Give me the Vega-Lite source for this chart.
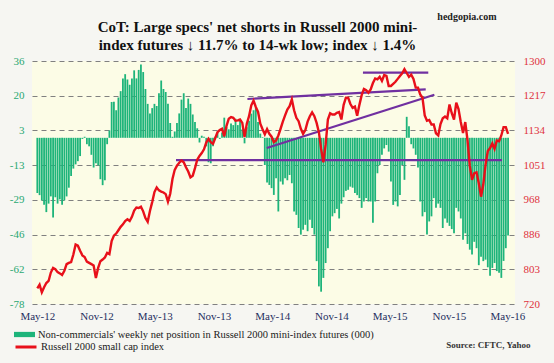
{
 "$schema": "https://vega.github.io/schema/vega-lite/v6.json",
 "width": 483, "height": 243,
 "autosize": {"type": "none"},
 "padding": {"left": 32, "top": 61, "right": 39, "bottom": 59},
 "background": "#f6f6f2",
 "config": {"view": {"stroke": null, "fill": "#fcfce6"}, "font": "Liberation Serif"},
 "title": {"text": ["CoT: Large specs' net shorts in Russell 2000 mini-", "index futures ↓ 11.7% to 14-wk low; index ↓ 1.4%"], "font": "Liberation Serif", "fontSize": 15, "fontWeight": "bold", "color": "#111111", "anchor": "middle", "dx": -16, "dy": 52, "offset": 10, "lineHeight": 18},
 "datasets": {
  "weekly": [
   {"d":"2012-05-01","n":-26,"p":757},{"d":"2012-05-08","n":-27,"p":766},{"d":"2012-05-15","n":-29.5,"p":748},{"d":"2012-05-22","n":-31.5,"p":760},{"d":"2012-05-29","n":-35,"p":770},{"d":"2012-06-05","n":-31,"p":775},{"d":"2012-06-12","n":-27.6,"p":795},{"d":"2012-06-19","n":-37.6,"p":806},{"d":"2012-06-26","n":-28,"p":803},{"d":"2012-07-03","n":-31,"p":796},{"d":"2012-07-10","n":-29,"p":793},{"d":"2012-07-17","n":-31.5,"p":789},{"d":"2012-07-24","n":-29.5,"p":799},{"d":"2012-07-31","n":-27.6,"p":815},{"d":"2012-08-07","n":-23.5,"p":818},{"d":"2012-08-14","n":-18,"p":820},{"d":"2012-08-21","n":-14.5,"p":838},{"d":"2012-08-28","n":-12.5,"p":862},{"d":"2012-09-04","n":-11,"p":859},{"d":"2012-09-11","n":-8.6,"p":847},{"d":"2012-09-18","n":-0.5,"p":836},{"d":"2012-09-25","n":0.5,"p":832},{"d":"2012-10-02","n":-3,"p":821},{"d":"2012-10-09","n":-4,"p":818},{"d":"2012-10-16","n":-8,"p":815},{"d":"2012-10-23","n":-14,"p":812},{"d":"2012-10-30","n":-12,"p":782},{"d":"2012-11-06","n":-13,"p":806},{"d":"2012-11-13","n":-19.5,"p":822},{"d":"2012-11-20","n":-22.3,"p":826},{"d":"2012-11-27","n":-20,"p":831},{"d":"2012-12-04","n":-3,"p":842},{"d":"2012-12-11","n":3.5,"p":839},{"d":"2012-12-18","n":16.9,"p":870},{"d":"2012-12-25","n":17,"p":883},
   {"d":"2013-01-01","n":13,"p":888},{"d":"2013-01-08","n":19,"p":896},{"d":"2013-01-15","n":22,"p":904},{"d":"2013-01-22","n":28,"p":910},{"d":"2013-01-29","n":30,"p":918},{"d":"2013-02-05","n":27.5,"p":922},{"d":"2013-02-12","n":25,"p":918},{"d":"2013-02-19","n":28,"p":928},{"d":"2013-02-26","n":31.8,"p":943},{"d":"2013-03-05","n":28,"p":950},{"d":"2013-03-12","n":32,"p":949},{"d":"2013-03-19","n":34.5,"p":952},{"d":"2013-03-26","n":31,"p":941},{"d":"2013-04-02","n":23,"p":925},{"d":"2013-04-09","n":16,"p":916},{"d":"2013-04-16","n":11.5,"p":942},{"d":"2013-04-23","n":14,"p":963},{"d":"2013-04-30","n":16,"p":987},{"d":"2013-05-07","n":15,"p":998},{"d":"2013-05-14","n":21,"p":991},{"d":"2013-05-21","n":27,"p":988},{"d":"2013-05-28","n":23,"p":986},{"d":"2013-06-04","n":21.6,"p":982},{"d":"2013-06-11","n":16,"p":964},{"d":"2013-06-18","n":7,"p":983},{"d":"2013-06-25","n":0.5,"p":1018},{"d":"2013-07-02","n":3,"p":1040},{"d":"2013-07-09","n":7,"p":1050},{"d":"2013-07-16","n":11.5,"p":1057},{"d":"2013-07-23","n":18,"p":1062},{"d":"2013-07-30","n":21,"p":1058},{"d":"2013-08-06","n":14,"p":1046},{"d":"2013-08-13","n":18.5,"p":1036},{"d":"2013-08-20","n":16,"p":1022},{"d":"2013-08-27","n":11,"p":1026},{"d":"2013-09-03","n":7.5,"p":1044},{"d":"2013-09-10","n":4.5,"p":1064},{"d":"2013-09-17","n":-2.2,"p":1073},{"d":"2013-09-24","n":1,"p":1080},{"d":"2013-10-01","n":0.5,"p":1089},{"d":"2013-10-08","n":-4,"p":1105},{"d":"2013-10-15","n":-11.5,"p":1114},{"d":"2013-10-22","n":-12,"p":1106},{"d":"2013-10-29","n":-4,"p":1102},{"d":"2013-11-05","n":0.5,"p":1116},{"d":"2013-11-12","n":2.8,"p":1130},{"d":"2013-11-19","n":-0.5,"p":1135},{"d":"2013-11-26","n":2.5,"p":1138},{"d":"2013-12-03","n":9.5,"p":1120},{"d":"2013-12-10","n":5,"p":1145},{"d":"2013-12-17","n":4,"p":1162},{"d":"2013-12-24","n":6.8,"p":1166},{"d":"2013-12-31","n":6,"p":1164},
   {"d":"2014-01-07","n":9,"p":1157},{"d":"2014-01-14","n":6,"p":1158},{"d":"2014-01-21","n":8,"p":1160},{"d":"2014-01-28","n":4,"p":1152},{"d":"2014-02-04","n":-2.6,"p":1118},{"d":"2014-02-11","n":5,"p":1150},{"d":"2014-02-18","n":8,"p":1168},{"d":"2014-02-25","n":11.4,"p":1194},{"d":"2014-03-04","n":13,"p":1205},{"d":"2014-03-11","n":14,"p":1190},{"d":"2014-03-18","n":7.5,"p":1178},{"d":"2014-03-25","n":2,"p":1150},{"d":"2014-04-01","n":0.3,"p":1137},{"d":"2014-04-08","n":-12.8,"p":1125},{"d":"2014-04-15","n":-21,"p":1137},{"d":"2014-04-22","n":-22.2,"p":1126},{"d":"2014-04-29","n":-23.7,"p":1119},{"d":"2014-05-06","n":-26.9,"p":1106},{"d":"2014-05-13","n":-19,"p":1110},{"d":"2014-05-20","n":-34.7,"p":1122},{"d":"2014-05-27","n":-20.6,"p":1138},{"d":"2014-06-03","n":-22,"p":1155},{"d":"2014-06-10","n":-19,"p":1170},{"d":"2014-06-17","n":-20,"p":1184},{"d":"2014-06-24","n":-17.5,"p":1192},{"d":"2014-07-01","n":-21.4,"p":1208},{"d":"2014-07-08","n":-34.7,"p":1182},{"d":"2014-07-15","n":-36.3,"p":1164},{"d":"2014-07-22","n":-42.5,"p":1156},{"d":"2014-07-29","n":-45.6,"p":1138},{"d":"2014-08-05","n":-43.3,"p":1126},{"d":"2014-08-12","n":-41,"p":1135},{"d":"2014-08-19","n":-44,"p":1155},{"d":"2014-08-26","n":-38.6,"p":1168},{"d":"2014-09-02","n":-42.5,"p":1177},{"d":"2014-09-09","n":-45.6,"p":1168},{"d":"2014-09-16","n":-58.1,"p":1152},{"d":"2014-09-23","n":-70,"p":1130},{"d":"2014-09-30","n":-72.5,"p":1090},{"d":"2014-10-07","n":-66,"p":1058},{"d":"2014-10-14","n":-59,"p":1100},{"d":"2014-10-21","n":-52,"p":1160},{"d":"2014-10-28","n":-44,"p":1175},{"d":"2014-11-04","n":-37,"p":1172},{"d":"2014-11-11","n":-35.5,"p":1172},{"d":"2014-11-18","n":-33.5,"p":1176},{"d":"2014-11-25","n":-38,"p":1178},{"d":"2014-12-02","n":-31,"p":1160},{"d":"2014-12-09","n":-28,"p":1195},{"d":"2014-12-16","n":-25,"p":1212},{"d":"2014-12-23","n":-24.5,"p":1212},{"d":"2014-12-30","n":-23,"p":1197},
   {"d":"2015-01-06","n":-23.5,"p":1188},{"d":"2015-01-13","n":-26,"p":1191},{"d":"2015-01-20","n":-27,"p":1169},{"d":"2015-01-27","n":-28.4,"p":1195},{"d":"2015-02-03","n":-33,"p":1218},{"d":"2015-02-10","n":-30,"p":1233},{"d":"2015-02-17","n":-28.4,"p":1230},{"d":"2015-02-24","n":-30,"p":1224},{"d":"2015-03-03","n":-30,"p":1232},{"d":"2015-03-10","n":-40,"p":1247},{"d":"2015-03-17","n":-30,"p":1258},{"d":"2015-03-24","n":-16.7,"p":1256},{"d":"2015-03-31","n":-12.8,"p":1262},{"d":"2015-04-07","n":-8,"p":1252},{"d":"2015-04-14","n":-5,"p":1266},{"d":"2015-04-21","n":-3.4,"p":1264},{"d":"2015-04-28","n":-6.5,"p":1240},{"d":"2015-05-05","n":-20.6,"p":1240},{"d":"2015-05-12","n":-31.6,"p":1245},{"d":"2015-05-19","n":-30,"p":1250},{"d":"2015-05-26","n":-32.3,"p":1257},{"d":"2015-06-02","n":-26.9,"p":1264},{"d":"2015-06-09","n":-12.8,"p":1270},{"d":"2015-06-16","n":-19.8,"p":1280},{"d":"2015-06-23","n":9.9,"p":1271},{"d":"2015-06-30","n":5.5,"p":1262},{"d":"2015-07-07","n":-3,"p":1267},{"d":"2015-07-14","n":-5,"p":1257},{"d":"2015-07-21","n":-8,"p":1236},{"d":"2015-07-28","n":-14,"p":1236},{"d":"2015-08-04","n":-30,"p":1220},{"d":"2015-08-11","n":-37,"p":1212},{"d":"2015-08-18","n":-35,"p":1170},{"d":"2015-08-25","n":-45.6,"p":1157},{"d":"2015-09-01","n":-39.4,"p":1159},{"d":"2015-09-08","n":-37,"p":1148},{"d":"2015-09-15","n":-28.4,"p":1148},{"d":"2015-09-22","n":-33,"p":1127},{"d":"2015-09-29","n":-31,"p":1122},{"d":"2015-10-06","n":-33,"p":1149},{"d":"2015-10-13","n":-42.5,"p":1163},{"d":"2015-10-20","n":-38,"p":1167},{"d":"2015-10-27","n":-40,"p":1163},{"d":"2015-11-03","n":-41.5,"p":1196},{"d":"2015-11-10","n":-43,"p":1175},{"d":"2015-11-17","n":-45,"p":1160},{"d":"2015-11-24","n":-33,"p":1200},{"d":"2015-12-01","n":-34.7,"p":1185},{"d":"2015-12-08","n":-38,"p":1154},{"d":"2015-12-15","n":-48,"p":1128},{"d":"2015-12-22","n":-45,"p":1154},{"d":"2015-12-29","n":-50,"p":1110},
   {"d":"2016-01-05","n":-52.7,"p":1050},{"d":"2016-01-12","n":-55,"p":1016},{"d":"2016-01-19","n":-49,"p":1032},{"d":"2016-01-26","n":-52,"p":1034},{"d":"2016-02-02","n":-60,"p":1008},{"d":"2016-02-09","n":-56,"p":976},{"d":"2016-02-16","n":-58.1,"p":1005},{"d":"2016-02-23","n":-57.4,"p":1052},{"d":"2016-03-01","n":-61,"p":1085},{"d":"2016-03-08","n":-65,"p":1092},{"d":"2016-03-15","n":-61.3,"p":1103},{"d":"2016-03-22","n":-59,"p":1090},{"d":"2016-03-29","n":-62.8,"p":1110},{"d":"2016-04-05","n":-63.6,"p":1108},{"d":"2016-04-12","n":-66,"p":1122},{"d":"2016-04-19","n":-58,"p":1142},{"d":"2016-04-26","n":-52,"p":1142},{"d":"2016-05-03","n":-46,"p":1126}
  ],
  "trend": [
   {"s":"a","d":"2013-07-06","p":1063},{"s":"a","d":"2016-04-14","p":1063},
   {"s":"b","d":"2014-02-13","p":1209},{"s":"b","d":"2015-08-21","p":1232},
   {"s":"c","d":"2014-04-14","p":1092},{"s":"c","d":"2015-09-17","p":1219},
   {"s":"d","d":"2015-02-07","p":1272},{"s":"d","d":"2015-08-29","p":1272}
  ]
 },
 "layer": [
  {
   "data": {"name": "weekly"},
   "mark": {"type": "bar", "size": 1.8},
   "encoding": {
    "x": {"field": "d", "type": "temporal",
     "scale": {"type": "utc", "domain": [{"year": 2012, "month": 4, "date": 30, "utc": true}, {"year": 2016, "month": 5, "date": 9, "utc": true}]},
     "axis": {"orient": "bottom",
      "values": [{"year": 2012, "month": 5, "date": 1, "utc": true}, {"year": 2012, "month": 11, "date": 1, "utc": true}, {"year": 2013, "month": 5, "date": 1, "utc": true}, {"year": 2013, "month": 11, "date": 1, "utc": true}, {"year": 2014, "month": 5, "date": 1, "utc": true}, {"year": 2014, "month": 11, "date": 1, "utc": true}, {"year": 2015, "month": 5, "date": 1, "utc": true}, {"year": 2015, "month": 11, "date": 1, "utc": true}, {"year": 2016, "month": 5, "date": 1, "utc": true}],
      "format": "%b-%y", "labelFont": "Liberation Serif", "labelFontSize": 11, "labelColor": "#1f2f5f", "labelPadding": 6,
      "ticks": false, "domain": false, "grid": false, "labelFlush": false, "labelOverlap": false,
      "title": "Source: CFTC, Yahoo", "titleFont": "Liberation Serif", "titleFontSize": 9, "titleFontWeight": "bold", "titleColor": "#333333",
      "titleX": 498, "titleY": 43, "titleAlign": "right", "titleBaseline": "alphabetic", "titleAnchor": "end"}
    },
    "y": {"field": "n", "type": "quantitative",
     "scale": {"domain": [-78.3, 36.2], "nice": false, "zero": false},
     "axis": {"orient": "left", "values": [-78.3, -61.943, -45.586, -29.229, -12.871, 3.486, 19.843, 36.2],
      "labelExpr": "(datum.value < 0 ? '-' : '') + format(abs(datum.value), '.0f')",
      "labelFont": "Liberation Serif", "labelFontSize": 11, "labelColor": "#2aa873", "labelPadding": 8,
      "ticks": false, "domain": false, "grid": true, "gridColor": "#808080", "gridDash": [5, 4], "gridWidth": 1, "title": null}
    },
    "fill": {"datum": "Non-commercials' weekly net position in Russell 2000 mini-index futures (000)", "type": "nominal",
     "scale": {"range": ["#1db47a"]},
     "legend": {"title": null, "orient": "none", "legendX": -18, "legendY": 263, "symbolType": "M-1,-0.25H1V0.25H-1Z", "symbolSize": 441, "symbolStrokeWidth": 0, "labelFont": "Liberation Serif", "labelFontSize": 10.5, "labelColor": "#1a1a1a", "labelOffset": 3, "padding": 0, "labelLimit": 500}
    }
   }
  },
  {
   "layer": [
    {
     "data": {"name": "trend"},
     "mark": {"type": "line", "stroke": "#7030a0", "strokeWidth": 2.2},
     "encoding": {
      "x": {"field": "d", "type": "temporal", "scale": {"type": "utc"}},
      "y": {"field": "p", "type": "quantitative", "scale": {"domain": [720, 1299.6], "nice": false, "zero": false},
       "axis": {"orient": "right", "values": [720, 802.8, 885.6, 968.4, 1051.2, 1134, 1216.8, 1299.6], "format": ".0f",
        "labelFont": "Liberation Serif", "labelFontSize": 11, "labelColor": "#e0313c", "labelPadding": 8,
        "ticks": false, "domain": false, "grid": false,
        "title": "hedgopia.com", "titleAngle": 0, "titleX": -19, "titleY": -42, "titleAlign": "right", "titleBaseline": "alphabetic",
        "titleFont": "Liberation Serif", "titleFontSize": 10, "titleFontWeight": "bold", "titleColor": "#222222"}},
      "detail": {"field": "s", "type": "nominal"}
     }
    },
    {
     "data": {"name": "weekly"},
     "mark": {"type": "line", "strokeWidth": 2.4},
     "encoding": {
      "x": {"field": "d", "type": "temporal", "scale": {"type": "utc"}},
      "y": {"field": "p", "type": "quantitative", "scale": {"domain": [720, 1299.6], "nice": false, "zero": false},
       "axis": {"orient": "right", "values": [720, 802.8, 885.6, 968.4, 1051.2, 1134, 1216.8, 1299.6], "format": ".0f",
        "labelFont": "Liberation Serif", "labelFontSize": 11, "labelColor": "#e0313c", "labelPadding": 8,
        "ticks": false, "domain": false, "grid": false,
        "title": "hedgopia.com", "titleAngle": 0, "titleX": -19, "titleY": -42, "titleAlign": "right", "titleBaseline": "alphabetic",
        "titleFont": "Liberation Serif", "titleFontSize": 10, "titleFontWeight": "bold", "titleColor": "#222222"}},
      "stroke": {"datum": "Russell 2000 small cap index", "type": "nominal",
       "scale": {"range": ["#e8101a"]},
       "legend": {"title": null, "orient": "none", "legendX": -18, "legendY": 274, "symbolType": "stroke", "symbolSize": 441, "symbolStrokeWidth": 3, "labelFont": "Liberation Serif", "labelFontSize": 10.5, "labelColor": "#1a1a1a", "labelOffset": 3, "padding": 0, "labelLimit": 500}
      }
     }
    }
   ]
  }
 ],
 "resolve": {"scale": {"y": "independent"}}
}
